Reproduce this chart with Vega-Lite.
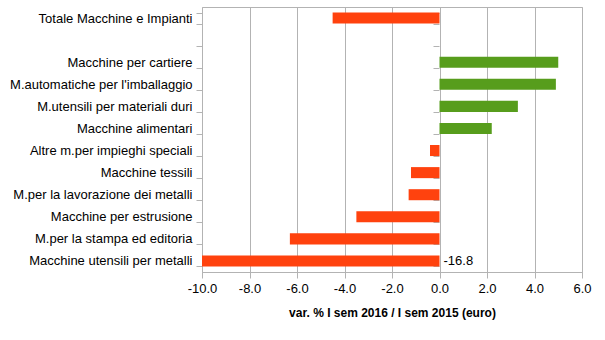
{
  "$schema": "https://vega.github.io/schema/vega-lite/v6.json",
  "width": 380,
  "height": 265,
  "autosize": "none",
  "padding": {"left": 202, "top": 7, "right": 23, "bottom": 68},
  "background": "white",
  "config": {
    "font": "Liberation Sans",
    "locale": {"number": {"decimal": ".", "thousands": ",", "grouping": [3], "currency": ["", ""], "minus": "-"}},
    "view": {"stroke": "#b3b3b3", "strokeWidth": 1},
    "axis": {"labelFont": "Liberation Sans", "titleFont": "Liberation Sans", "labelColor": "#000000", "titleColor": "#000000"}
  },
  "data": {
    "values": [
      {"categoria": "Totale Macchine e Impianti", "var": -4.5},
      {"categoria": " ", "var": null},
      {"categoria": "Macchine per cartiere", "var": 5.0},
      {"categoria": "M.automatiche per l'imballaggio", "var": 4.9},
      {"categoria": "M.utensili per materiali duri", "var": 3.3},
      {"categoria": "Macchine alimentari", "var": 2.2},
      {"categoria": "Altre m.per impieghi speciali", "var": -0.4},
      {"categoria": "Macchine tessili", "var": -1.2},
      {"categoria": "M.per la lavorazione dei metalli", "var": -1.3},
      {"categoria": "Macchine per estrusione", "var": -3.5},
      {"categoria": "M.per la stampa ed editoria", "var": -6.3},
      {"categoria": "Macchine utensili per metalli", "var": -16.8}
    ]
  },
  "layer": [
    {
      "mark": {"type": "bar", "clip": true},
      "encoding": {
        "y": {
          "field": "categoria",
          "type": "nominal",
          "scale": {
            "domain": ["Totale Macchine e Impianti", " ", "Macchine per cartiere", "M.automatiche per l'imballaggio", "M.utensili per materiali duri", "Macchine alimentari", "Altre m.per impieghi speciali", "Macchine tessili", "M.per la lavorazione dei metalli", "Macchine per estrusione", "M.per la stampa ed editoria", "Macchine utensili per metalli"],
            "paddingInner": 0.5,
            "paddingOuter": 0.25
          },
          "axis": {
            "title": null,
            "domain": false,
            "grid": false,
            "tickBand": "extent",
            "tickColor": "#b3b3b3",
            "tickSize": 6,
            "labelFontSize": 13,
            "labelPadding": 4,
            "labelLimit": 300
          }
        },
        "x": {
          "field": "var",
          "type": "quantitative",
          "scale": {"domain": [-10, 6], "nice": false, "zero": false},
          "axis": {
            "title": "var. % I sem 2016 / I sem 2015 (euro)",
            "titleFontSize": 12,
            "titleFontWeight": "bold",
            "titlePadding": 12,
            "values": [-10, -8, -6, -4, -2, 0, 2, 4, 6],
            "format": ".1f",
            "labelFontSize": 13,
            "labelPadding": 4,
            "tickSize": 6,
            "tickColor": "#b3b3b3",
            "domainColor": "#b3b3b3",
            "gridColor": "#b3b3b3",
            "grid": true,
            "labelFlush": false
          }
        },
        "color": {
          "condition": {"test": "datum['var'] < 0", "value": "#ff420e"},
          "value": "#579d1c"
        }
      }
    },
    {
      "transform": [{"filter": "datum['var'] < -10"}],
      "mark": {"type": "text", "align": "left", "dx": 4, "fontSize": 13, "color": "#000000"},
      "encoding": {
        "y": {
          "field": "categoria",
          "type": "nominal",
          "axis": {
            "orient": "left",
            "offset": -237,
            "title": null,
            "labels": false,
            "domain": false,
            "grid": false,
            "tickBand": "extent",
            "tickColor": "#b3b3b3",
            "tickSize": 6
          }
        },
        "x": {"datum": 0, "type": "quantitative"},
        "text": {"field": "var", "type": "quantitative", "format": ".1f"}
      }
    }
  ],
  "resolve": {"axis": {"y": "independent"}}
}
